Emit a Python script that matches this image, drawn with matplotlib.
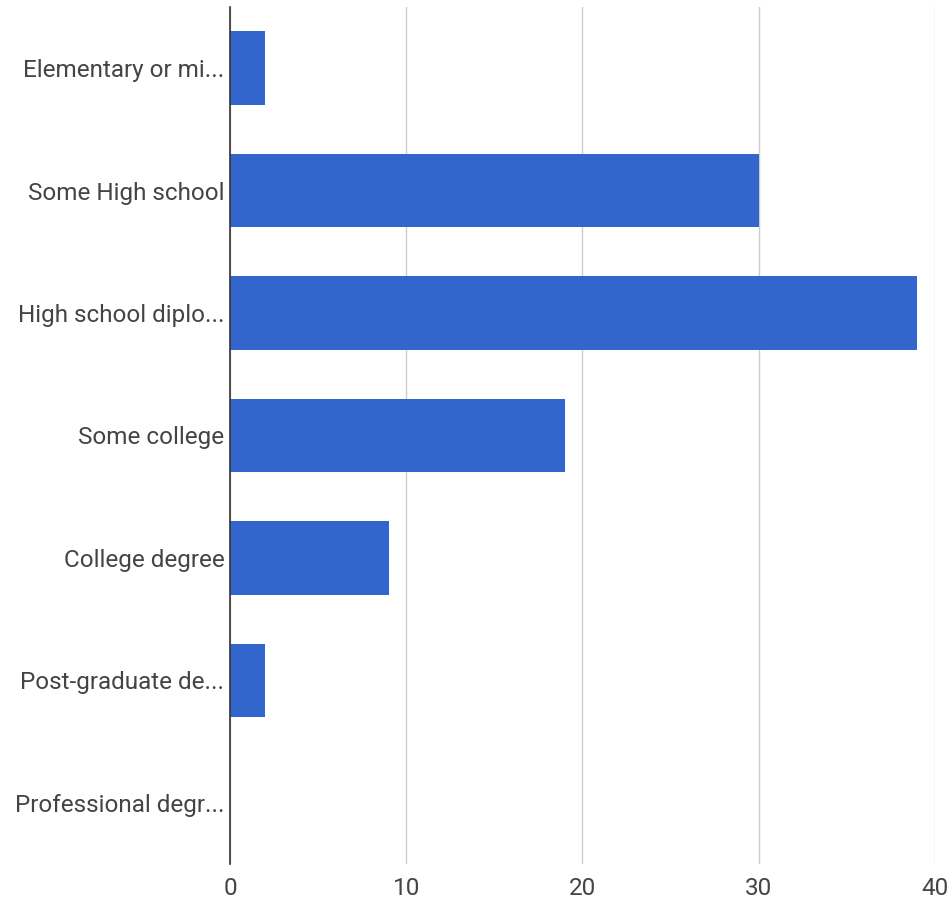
import matplotlib
matplotlib.use("Agg")
import matplotlib.pyplot as plt

plt.rcParams['font.family'] = ['Roboto', 'DejaVu Sans']

# education levels (labels truncated as shown in the chart)
categories = ["Elementary or mi...", "Some High school", "High school diplo...",
              "Some college", "College degree", "Post-graduate de...",
              "Professional degr..."]
counts = [2, 30, 39, 19, 9, 2, 0]
x_ticks = [0, 10, 20, 30, 40]

fig = plt.figure(figsize=(9.48, 9.05), dpi=100)
ax = fig.add_axes([0.2426, 0.0453, 0.7437, 0.947])

ypos = list(range(len(categories)))
ax.barh(ypos, counts, height=0.6, color="#3366cc", zorder=3)

ax.set_ylim(len(categories) - 0.5, -0.5)
ax.set_xlim(0, 40)
ax.set_yticks(ypos)
ax.set_yticklabels(categories)
ax.set_xticks(x_ticks)

ax.grid(axis="x", color="#cccccc", linewidth=1, zorder=0)
for s in ["top", "right", "bottom"]:
    ax.spines[s].set_visible(False)
ax.spines["left"].set_color("#333333")
ax.spines["left"].set_linewidth(1.2)
ax.spines["left"].set_zorder(4)

ax.tick_params(axis="both", length=0, labelsize=17.5, labelcolor="#444444")
ax.tick_params(axis="y", pad=4)
ax.tick_params(axis="x", pad=9)

fig.savefig("out.png", dpi=100)
